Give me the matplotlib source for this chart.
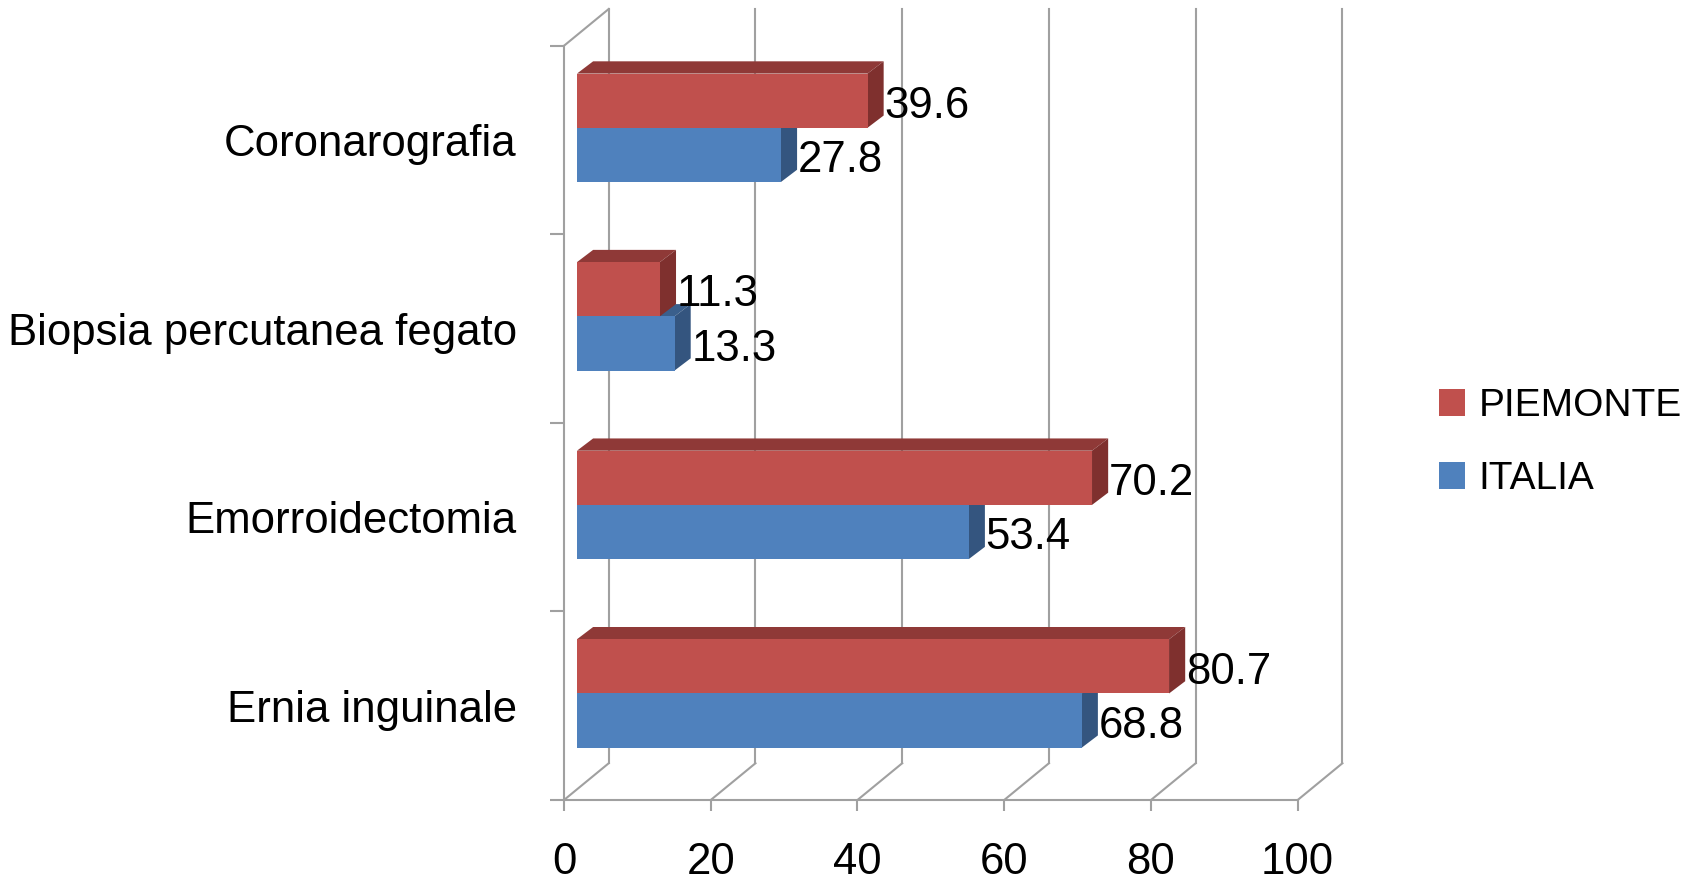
import matplotlib.pyplot as plt
from matplotlib.patches import Polygon, Patch

categories = ["Ernia inguinale", "Emorroidectomia", "Biopsia percutanea fegato", "Coronarografia"]
piemonte = [80.7, 70.2, 11.3, 39.6]
italia = [68.8, 53.4, 13.3, 27.8]
series_names = ["PIEMONTE", "ITALIA"]
x_ticks = [0, 20, 40, 60, 80, 100]

plt.rcParams['font.family'] = ['Liberation Sans', 'DejaVu Sans']

GRID = '#A0A0A0'
# wall depth (data units), bar offset inside the depth, bar depth
DX, DY = 6.1, 0.195
OX, OY = 1.77, 0.065
BDX, BDY = 2.2, 0.065
BH = 0.2875

red = ('#C0504D', '#8F3937', '#7F302E')   # front, top, side
blue = ('#4F81BD', '#3A5F8C', '#34557F')


def bar3d(ax, v, y0, y1, cols):
    front, top, side = cols
    x0 = OX
    x1 = v + OX
    a, b = y0 + OY, y1 + OY
    ax.add_patch(Polygon([(x0, b), (x1, b), (x1 + BDX, b + BDY), (x0 + BDX, b + BDY)],
                         closed=True, fc=top, ec='none', clip_on=False, zorder=3))
    ax.add_patch(Polygon([(x1, a), (x1 + BDX, a + BDY), (x1 + BDX, b + BDY), (x1, b)],
                         closed=True, fc=side, ec='none', clip_on=False, zorder=3))
    ax.add_patch(Polygon([(x0, a), (x1, a), (x1, b), (x0, b)],
                         closed=True, fc=front, ec='none', clip_on=False, zorder=3))


fig = plt.figure(figsize=(17.07, 8.8), dpi=100)
ax = fig.add_axes([0.3304, 0.0909, 0.4298, 0.8571])
ax.set_xlim(0, 100)
ax.set_ylim(0, len(categories))

# back wall gridlines and floor diagonals
for t in x_ticks:
    ax.plot([t + DX, t + DX], [DY, len(categories) + DY], color=GRID, lw=1.5,
            clip_on=False, zorder=1)
    ax.plot([t, t + DX], [0, DY], color=GRID, lw=1.5, clip_on=False, zorder=1)
ax.plot([0, DX], [len(categories), len(categories) + DY], color=GRID, lw=1.5,
        clip_on=False, zorder=1)

for i in range(len(categories)):
    c = i + 0.5
    bar3d(ax, italia[i], c - BH, c, blue)
    bar3d(ax, piemonte[i], c, c + BH, red)
    ax.text(piemonte[i] + OX + BDX + 0.1, c + BH / 2 + OY - 0.03, f"{piemonte[i]:.1f}",
            fontsize=31.5, ha='left', va='center', zorder=5)
    ax.text(italia[i] + OX + BDX + 0.1, c - BH / 2 + OY - 0.03, f"{italia[i]:.1f}",
            fontsize=31.5, ha='left', va='center', zorder=5)

for s in ['top', 'right']:
    ax.spines[s].set_visible(False)
for s in ['left', 'bottom']:
    ax.spines[s].set_color(GRID)
    ax.spines[s].set_linewidth(1.5)

ax.set_xticks(x_ticks)
ax.set_xticklabels([str(t) for t in x_ticks])
ax.tick_params(axis='x', length=8, width=1.5, color=GRID, labelsize=31.5, pad=22)

ax.set_yticks(range(len(categories) + 1))
ax.set_yticklabels([])
ax.tick_params(axis='y', which='major', length=10, width=1.5, color=GRID)
ax.set_yticks([i + 0.5 for i in range(len(categories))], minor=True)
ax.set_yticklabels(categories, minor=True)
ax.tick_params(axis='y', which='minor', length=0, labelsize=31.5, pad=34)

handles = [Patch(fc=red[0]), Patch(fc=blue[0])]
fig.legend(handles, series_names, loc='center left', bbox_to_anchor=(0.843, 0.497),
           frameon=False, fontsize=28, handlelength=0.67, handleheight=0.67,
           handletextpad=0.35, labelspacing=0.95, borderpad=0, borderaxespad=0)

fig.savefig('out.png', dpi=100, facecolor='white')
